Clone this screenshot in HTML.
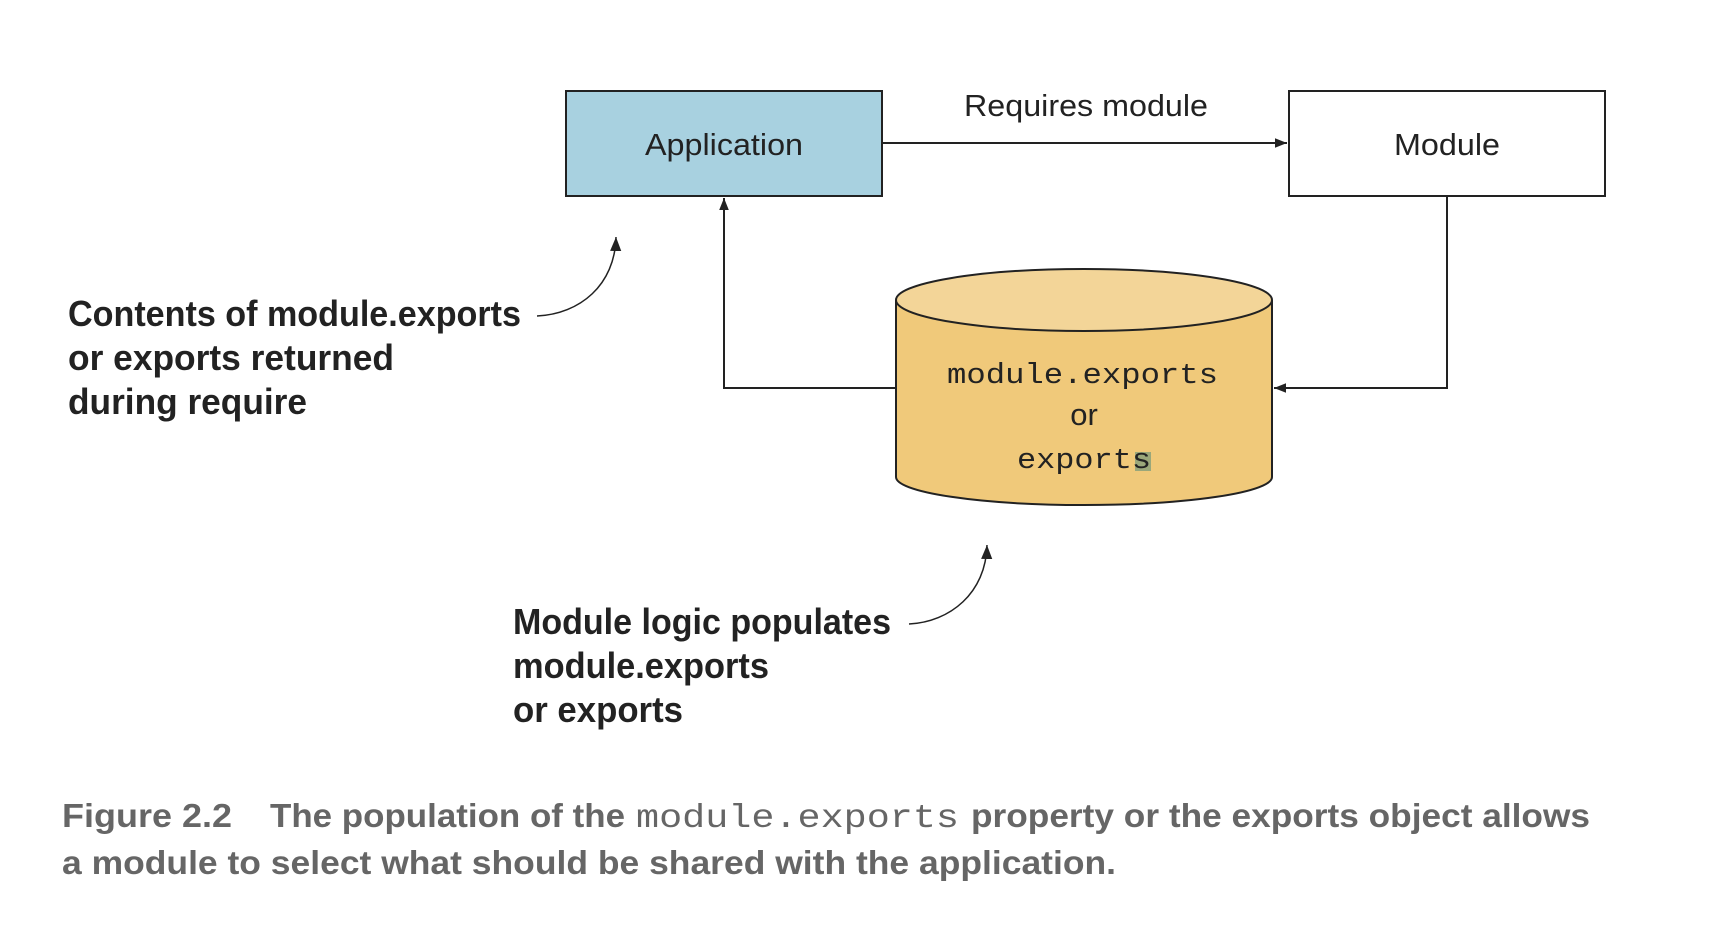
<!DOCTYPE html>
<html><head><meta charset="utf-8"><style>
html,body{margin:0;padding:0;background:#fff;}
svg{display:block}
</style></head><body>
<svg width="1722" height="940" viewBox="0 0 1722 940" xmlns="http://www.w3.org/2000/svg">
<defs>
<marker id="ah" viewBox="0 0 10 10" refX="10" refY="5" markerWidth="12" markerHeight="12" markerUnits="userSpaceOnUse" orient="auto">
<path d="M0,1 L10,5 L0,9 z" fill="#222"/></marker>
<marker id="ah2" viewBox="0 0 10 10" refX="10" refY="5" markerWidth="14" markerHeight="14" markerUnits="userSpaceOnUse" orient="auto">
<path d="M0,1 L10,5 L0,9 z" fill="#222"/></marker>
</defs>
<rect x="566" y="91" width="316" height="105" fill="#a8d1e0" stroke="#222" stroke-width="2"/>
<text x="724" y="155" font-family="Liberation Sans, sans-serif" font-size="31" text-anchor="middle" fill="#222" textLength="158" lengthAdjust="spacingAndGlyphs">Application</text>
<rect x="1289" y="91" width="316" height="105" fill="#fff" stroke="#222" stroke-width="2"/>
<text x="1447" y="155" font-family="Liberation Sans, sans-serif" font-size="31" text-anchor="middle" fill="#222" textLength="106" lengthAdjust="spacingAndGlyphs">Module</text>
<line x1="882" y1="143" x2="1287" y2="143" stroke="#222" stroke-width="2" marker-end="url(#ah)"/>
<text x="1086" y="116" font-family="Liberation Sans, sans-serif" font-size="31" text-anchor="middle" fill="#222" textLength="244" lengthAdjust="spacingAndGlyphs">Requires module</text>
<path d="M896,300 L896,477 A188,28 0 0 0 1272,477 L1272,300" fill="#f0c97a" stroke="#222" stroke-width="2"/>
<ellipse cx="1084" cy="300" rx="188" ry="31" fill="#f3d598" stroke="#222" stroke-width="2"/>
<rect x="1135" y="452" width="16" height="19" fill="#9aa77a"/>
<text x="947" y="383" font-family="Liberation Mono, monospace" font-size="29" fill="#222" textLength="271" lengthAdjust="spacingAndGlyphs">module.exports</text>
<text x="1084" y="425" font-family="Liberation Sans, sans-serif" font-size="31" text-anchor="middle" fill="#222">or</text>
<text x="1017" y="468" font-family="Liberation Mono, monospace" font-size="29" fill="#222" textLength="134" lengthAdjust="spacingAndGlyphs">exports</text>
<polyline points="896,388 724,388 724,198" fill="none" stroke="#222" stroke-width="2" marker-end="url(#ah)"/>
<polyline points="1447,196 1447,388 1274,388" fill="none" stroke="#222" stroke-width="2" marker-end="url(#ah)"/>
<path d="M537,316 C580,314 615,285 616,237" fill="none" stroke="#222" stroke-width="1.5" marker-end="url(#ah2)"/>
<path d="M909,624 C950,622 986,593 987,545" fill="none" stroke="#222" stroke-width="1.5" marker-end="url(#ah2)"/>
<g font-family="Liberation Sans Narrow, Liberation Sans, sans-serif" font-weight="bold" font-size="36" fill="#222">
<text x="68" y="326" textLength="453" lengthAdjust="spacingAndGlyphs">Contents of module.exports</text>
<text x="68" y="370" textLength="326" lengthAdjust="spacingAndGlyphs">or exports returned</text>
<text x="68" y="414" textLength="239" lengthAdjust="spacingAndGlyphs">during require</text>
<text x="513" y="634" textLength="378" lengthAdjust="spacingAndGlyphs">Module logic populates</text>
<text x="513" y="678" textLength="256" lengthAdjust="spacingAndGlyphs">module.exports</text>
<text x="513" y="722" textLength="170" lengthAdjust="spacingAndGlyphs">or exports</text>
</g>
<g font-family="Liberation Sans Narrow, Liberation Sans, sans-serif" font-weight="bold" font-size="33" fill="#666">
<text x="62" y="827" textLength="170" lengthAdjust="spacingAndGlyphs">Figure 2.2</text>
<text x="270" y="827" textLength="355" lengthAdjust="spacingAndGlyphs">The population of the</text>
<text x="636" y="827" font-family="Liberation Mono, monospace" font-weight="normal" textLength="323" lengthAdjust="spacingAndGlyphs">module.exports</text>
<text x="971" y="827" textLength="619" lengthAdjust="spacingAndGlyphs">property or the exports object allows</text>
<text x="62" y="874" textLength="1054" lengthAdjust="spacingAndGlyphs">a module to select what should be shared with the application.</text>
</g>
</svg>
</body></html>
